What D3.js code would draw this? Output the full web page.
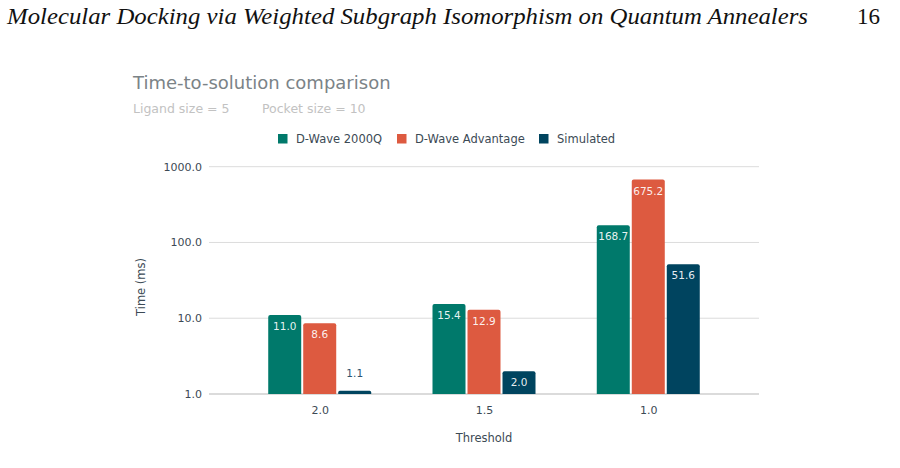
<html>
<head>
<title>Time-to-solution comparison</title>
<style>
body {
  margin: 0;
  background: white;
}
#plot {
  width: 900px;
  height: 468px;
  display: block;
}
svg text {
  font-family: 'DejaVu Sans', sans-serif;
}
svg .header {
  font-family: 'Liberation Serif', serif;
  font-style: italic;
  font-size: 23px;
  fill: #111;
}
svg .pagenum {
  font-family: 'Liberation Serif', serif;
  font-size: 23px;
  fill: #111;
}
svg .title {
  font-size: 18px;
  fill: #7b8387;
}
svg .subtitle {
  font-size: 12.5px;
  fill: #c2c2c2;
}
svg .legend text {
  font-size: 11.5px;
  fill: #3c4a55;
}
svg .grid line {
  stroke: #dcdcdc;
  stroke-width: 1;
}
svg .axis text {
  font-size: 11px;
  fill: #3c4a55;
}
svg .axis-title {
  font-size: 11.5px;
  fill: #3c4a55;
}
svg .bar-label {
  font-size: 10.5px;
  text-anchor: middle;
}
</style>
</head>
<body>

<svg id='plot'></svg>

<script src='https://d3js.org/d3.v7.min.js'></script>
<script>
// Chart values.
const thresholds = ['2.0', '1.5', '1.0'];
const seriesNames = ['D-Wave 2000Q', 'D-Wave Advantage', 'Simulated'];
const dwave2000q = [11.0, 15.4, 168.7];
const dwaveAdvantage = [8.6, 12.9, 675.2];
const simulated = [1.1, 2.0, 51.6];
const yTicks = [1, 10, 100, 1000];
const seriesColors = ['#00796b', '#dd5a40', '#00445f'];

const series = [dwave2000q, dwaveAdvantage, simulated];

const width = 900, height = 468;
const plotLeft = 209, plotRight = 759, plotTop = 166.7, plotBottom = 394;

const svg = d3.select('#plot')
  .attr('viewBox', `0 0 ${width} ${height}`);

// Page header from the paper.
svg.append('text')
  .attr('class', 'header')
  .attr('x', 7)
  .attr('y', 24)
  .attr('textLength', 801)
  .attr('lengthAdjust', 'spacingAndGlyphs')
  .text('Molecular Docking via Weighted Subgraph Isomorphism on Quantum Annealers');
svg.append('text')
  .attr('class', 'pagenum')
  .attr('x', 880)
  .attr('y', 24)
  .attr('text-anchor', 'end')
  .text('16');

// Titles.
svg.append('text')
  .attr('class', 'title')
  .attr('x', 133)
  .attr('y', 89)
  .text('Time-to-solution comparison');
svg.append('text')
  .attr('class', 'subtitle')
  .attr('x', 133)
  .attr('y', 113)
  .text('Ligand size = 5');
svg.append('text')
  .attr('class', 'subtitle')
  .attr('x', 262)
  .attr('y', 113)
  .text('Pocket size = 10');

// Legend.
const legendX = [278, 397, 539];
const legend = svg.append('g').attr('class', 'legend');
seriesNames.forEach(function(name, i) {
  const g = legend.append('g')
    .attr('transform', `translate(${legendX[i]}, 134)`);
  g.append('rect')
    .attr('width', 9.5)
    .attr('height', 9.5)
    .attr('fill', seriesColors[i]);
  g.append('text')
    .attr('x', 18)
    .attr('y', 9)
    .text(name);
});

// Scales.
const y = d3.scaleLog()
  .domain([1, 1000])
  .range([plotBottom, plotTop]);

const x = d3.scalePoint()
  .domain(thresholds)
  .range([plotLeft, plotRight])
  .padding(0.674);

const barWidth = 33;
const barStep = 35;

// Grid lines and y labels.
const grid = svg.append('g').attr('class', 'grid');
grid.selectAll('line')
  .data(yTicks)
  .enter()
  .append('line')
  .attr('x1', plotLeft)
  .attr('x2', plotRight)
  .attr('y1', d => y(d))
  .attr('y2', d => y(d))
  .style('stroke', d => d === 1 ? '#cfcfcf' : null)
  .style('stroke-width', d => d === 1 ? 1.5 : null);

const yAxis = d3.axisLeft(y)
  .tickValues(yTicks)
  .tickFormat(d3.format('.1f'))
  .tickSize(0)
  .tickPadding(7);
svg.append('g')
  .attr('class', 'axis')
  .attr('transform', `translate(${plotLeft}, 0)`)
  .call(yAxis)
  .call(g => g.select('.domain').remove());

const xAxis = d3.axisBottom(x)
  .tickSize(0)
  .tickPadding(12);
svg.append('g')
  .attr('class', 'axis')
  .attr('transform', `translate(0, ${plotBottom})`)
  .call(xAxis)
  .call(g => g.select('.domain').remove());

// Axis titles.
svg.append('text')
  .attr('class', 'axis-title')
  .attr('text-anchor', 'middle')
  .attr('transform', 'translate(145, 287) rotate(-90)')
  .text('Time (ms)');
svg.append('text')
  .attr('class', 'axis-title')
  .attr('text-anchor', 'middle')
  .attr('x', x('1.5'))
  .attr('y', 442)
  .text('Threshold');

// Bars.
const bars = svg.append('g').attr('class', 'bars');
series.forEach(function(values, s) {
  const g = bars.append('g');
  const offset = (s - 1) * barStep - barWidth / 2;
  g.selectAll('path')
    .data(values)
    .enter()
    .append('path')
    .attr('fill', seriesColors[s])
    .attr('d', function(d, i) {
      const x0 = x(thresholds[i]) + offset;
      const y0 = y(d);
      const r = Math.min(2, (plotBottom - y0) / 2);
      return `M${x0},${plotBottom} V${y0 + r} Q${x0},${y0} ${x0 + r},${y0}` +
        ` H${x0 + barWidth - r} Q${x0 + barWidth},${y0} ${x0 + barWidth},${y0 + r}` +
        ` V${plotBottom} Z`;
    });

  // Value labels: inside the bar when it is tall enough, otherwise above.
  g.selectAll('text')
    .data(values)
    .enter()
    .append('text')
    .attr('class', 'bar-label')
    .attr('x', (d, i) => x(thresholds[i]) + offset + barWidth / 2)
    .attr('y', function(d) {
      const h = plotBottom - y(d);
      return h > 18 ? y(d) + 15 : y(d) - 14;
    })
    .attr('fill', function(d) {
      const h = plotBottom - y(d);
      return h > 18 ? 'rgba(255,255,255,0.92)' : '#2f5470';
    })
    .text(d => d.toFixed(1));
});

</script>
</body>
</html>
